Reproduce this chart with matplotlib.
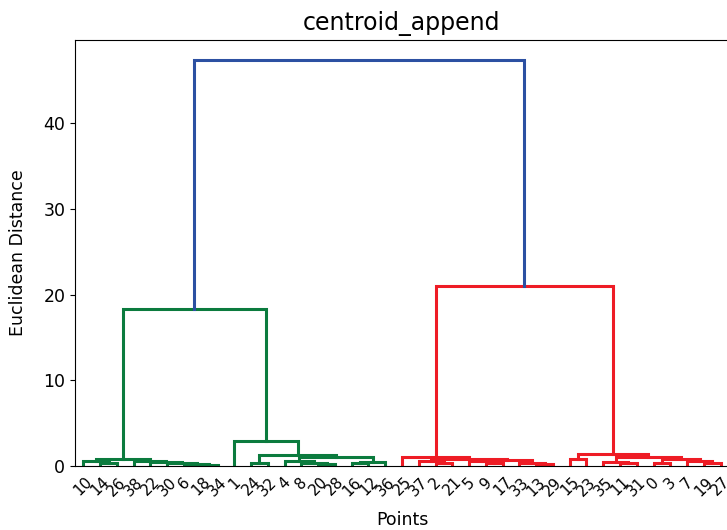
"""Centroid-linkage dendrogram of the appended point set."""

import matplotlib

matplotlib.use("Agg")
import matplotlib.pyplot as plt

# leaf labels in dendrogram order (left to right)
leaf_labels = [10, 14, 26, 38, 22, 30, 6, 18, 34,
               1, 24, 32, 4, 8, 20, 28, 16, 12, 36,
               25, 37, 2, 21, 5, 9, 17, 33, 13, 29,
               15, 23, 35, 11, 31, 0, 3, 7, 19, 27]

# merges: (child a, child b, distance); ids < 39 are leaf slots,
# id 39 + i is the cluster made by merge i
merge_a = [1, 0, 7, 6, 5, 4, 3, 40,
           10, 14, 13, 12, 16, 51, 50, 47, 9, 46,
           21, 20, 24, 23, 27, 26, 60, 58, 19,
           29, 32, 31, 34, 37, 36, 69, 68, 66, 65,
           56]
merge_b = [2, 39, 8, 41, 42, 43, 44, 45,
           11, 15, 48, 49, 17, 18, 52, 53, 54, 55,
           22, 57, 25, 59, 28, 61, 62, 63, 64,
           30, 33, 67, 35, 38, 70, 71, 72, 73, 74,
           75]
merge_dist = [0.35, 0.55, 0.12, 0.22, 0.32, 0.45, 0.6, 0.78,
              0.4, 0.25, 0.4, 0.6, 0.35, 0.5, 1.0, 1.28, 2.95, 18.35,
              0.3, 0.55, 0.3, 0.6, 0.2, 0.4, 0.7, 0.85, 1.1,
              0.8, 0.3, 0.45, 0.3, 0.4, 0.6, 0.8, 1.0, 1.4, 21.05,
              47.35]
# which branch each merge belongs to
merge_group = ["g"] * 18 + ["r"] * 19 + ["top"]

colors = {"g": "#0b7b3e", "r": "#ee1c25", "top": "#2c50a2"}

n = len(leaf_labels)
xpos = {i: 5 + 10 * i for i in range(n)}
ypos = {i: 0.0 for i in range(n)}

fig = plt.figure(figsize=(7.27, 5.30), dpi=100)
ax = fig.add_axes([75 / 727, 64 / 530, 654 / 727, 426 / 530])

for k, (a, b, d, g) in enumerate(zip(merge_a, merge_b, merge_dist, merge_group)):
    xa, xb = xpos[a], xpos[b]
    ax.plot([xa, xa, xb, xb], [ypos[a], d, d, ypos[b]],
            color=colors[g], lw=2.2, solid_joinstyle="miter")
    xpos[n + k] = (xa + xb) / 2
    ypos[n + k] = d

ax.set_xlim(0, 10 * n)
ax.set_ylim(0, max(merge_dist) * 1.05)
ax.set_xticks([5 + 10 * i for i in range(n)])
ax.set_xticklabels([str(v) for v in leaf_labels], rotation=45, fontsize=11)
ax.tick_params(axis="x", length=0, pad=6)
ax.tick_params(axis="y", labelsize=12.5)
ax.set_yticks([0, 10, 20, 30, 40])

ax.set_title("centroid_append", fontsize=17, pad=7)
ax.set_xlabel("Points", fontsize=12.5, labelpad=9)
ax.set_ylabel("Euclidean Distance", fontsize=12.5, labelpad=12)

fig.savefig("out.png", dpi=100)
